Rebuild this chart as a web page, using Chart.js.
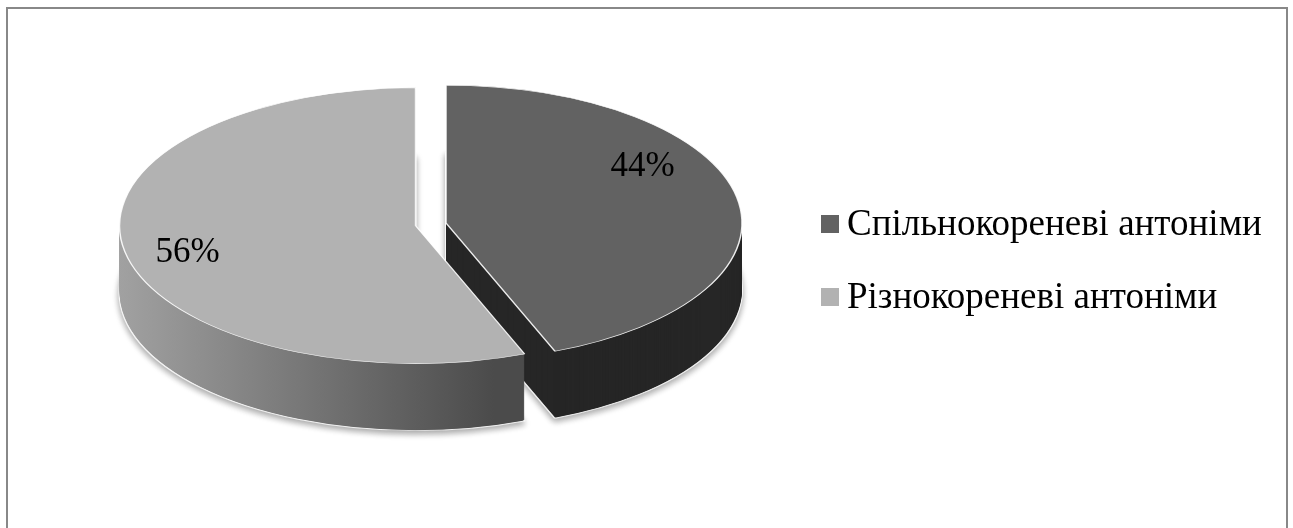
<!DOCTYPE html>
<html>
<head>
<meta charset="utf-8">
<script src="https://cdn.jsdelivr.net/npm/chart.js@4.4.0/dist/chart.umd.min.js"></script>
<style>
  body { margin: 0; background: #fff; }
  #wrap { position: relative; width: 1293px; height: 528px; overflow: hidden; }
  #frame { position: absolute; left: 6px; top: 7px; width: 1278px; height: 560px; border: 2px solid #888; }
  #pie { position: absolute; left: 0; top: 0; }
  #legend { position: absolute; left: 821px; top: 204px; font-family: "Liberation Serif", "Times New Roman", serif; font-size: 37px; line-height: 37px; color: #000; }
  .item { position: relative; height: 37px; margin-bottom: 36px; padding-left: 26px; white-space: nowrap; }
  .box { position: absolute; left: 0; top: 11px; width: 18px; height: 18px; }
</style>
</head>
<body>
<div id="wrap">
  <div id="frame"></div>
  <canvas id="pie" width="1293" height="528"></canvas>
  <div id="legend"></div>
</div>
<script>
// дані діаграми
const categories = ['Спільнокореневі антоніми', 'Різнокореневі антоніми'];
const shares = [44, 56];

const topColors = ['#626262', '#b2b2b2'];
// бічні стінки: суцільний колір або градієнт [зліва, справа]
const sideColors = ['#262626', ['#a8a8a8', '#4b4b4b']];

// легенда
const legend = document.getElementById('legend');
categories.forEach((c, i) => {
  const item = document.createElement('div');
  item.className = 'item';
  item.innerHTML = '<span class="box" style="background:' + topColors[i] + '"></span>' + c;
  legend.appendChild(item);
});

// псевдо-3D: стиснення по вертикалі + бічна стінка з шарів
const pie3d = {
  id: 'pie3d',
  beforeDatasetsDraw(chart, args, opts) {
    const ctx = chart.ctx;
    const arcs = chart.getDatasetMeta(0).data;
    const s = opts.tilt;
    const cy = arcs[0].y;
    ctx.save();
    ctx.translate(0, cy);
    ctx.scale(1, s);
    ctx.translate(0, -cy);
    arcs.forEach((arc, i) => {
      const mid = (arc.startAngle + arc.endAngle) / 2;
      const ex = Math.cos(mid) * opts.explode[i];
      const ey = Math.sin(mid) * opts.explode[i];
      const topOpts = arc.options;
      let fill = sideColors[i];
      if (Array.isArray(fill)) {
        const x0 = arc.x + ex - arc.outerRadius;
        const x1 = arc.x + ex + Math.cos(arc.startAngle) * arc.outerRadius;
        const g = ctx.createLinearGradient(x0, 0, x1, 0);
        g.addColorStop(0, fill[0]);
        g.addColorStop(1, fill[1]);
        fill = g;
      }
      for (let d = opts.depth; d >= 1; d--) {
        ctx.save();
        ctx.translate(ex, ey + d / s);
        const last = d === opts.depth;
        arc.options = Object.assign({}, topOpts, {
          backgroundColor: fill,
          borderWidth: last ? 2 : 0,
          borderColor: 'rgba(255,255,255,0.85)'
        });
        if (last) {
          ctx.shadowColor = 'rgba(0,0,0,0.35)';
          ctx.shadowBlur = 6;
          ctx.shadowOffsetY = 3;
        }
        arc.draw(ctx);
        ctx.restore();
      }
      arc.options = topOpts;
      ctx.save();
      ctx.translate(ex, ey);
      arc.draw(ctx);
      ctx.restore();
    });
    ctx.restore();
    return false;
  },
  afterDraw(chart, args, opts) {
    const ctx = chart.ctx;
    const arcs = chart.getDatasetMeta(0).data;
    const vals = chart.data.datasets[0].data;
    const total = vals.reduce((a, b) => a + b, 0);
    ctx.save();
    ctx.font = opts.font;
    ctx.fillStyle = '#000';
    ctx.textAlign = 'center';
    ctx.textBaseline = 'alphabetic';
    arcs.forEach((arc, i) => {
      const mid = (arc.startAngle + arc.endAngle) / 2;
      const a = mid + opts.labelShift[i] * Math.PI / 180;
      const ex = Math.cos(mid) * opts.explode[i];
      const ey = Math.sin(mid) * opts.explode[i];
      const r = arc.outerRadius * opts.labelRadius;
      const x = arc.x + ex + Math.cos(a) * r;
      const y = arc.y + (ey + Math.sin(a) * r) * opts.tilt;
      ctx.fillText(Math.round(vals[i] / total * 100) + '%', x, y + 12);
    });
    ctx.restore();
  }
};

new Chart(document.getElementById('pie'), {
  type: 'pie',
  data: {
    labels: categories,
    datasets: [{
      data: shares,
      backgroundColor: topColors,
      borderColor: 'rgba(255,255,255,0.9)',
      borderWidth: 1.5,
      radius: 296
    }]
  },
  options: {
    responsive: false,
    animation: false,
    events: [],
    layout: { padding: { left: 150, right: 551, top: 0, bottom: 82 } },
    plugins: {
      legend: { display: false },
      tooltip: { enabled: false },
      pie3d: {
        tilt: 0.466,
        depth: 67,
        explode: [0, 31],
        labelRadius: 0.79,
        labelShift: [-22, -2],
        font: '35px "Liberation Serif", "Times New Roman", serif'
      }
    }
  },
  plugins: [pie3d]
});
</script>
</body>
</html>
